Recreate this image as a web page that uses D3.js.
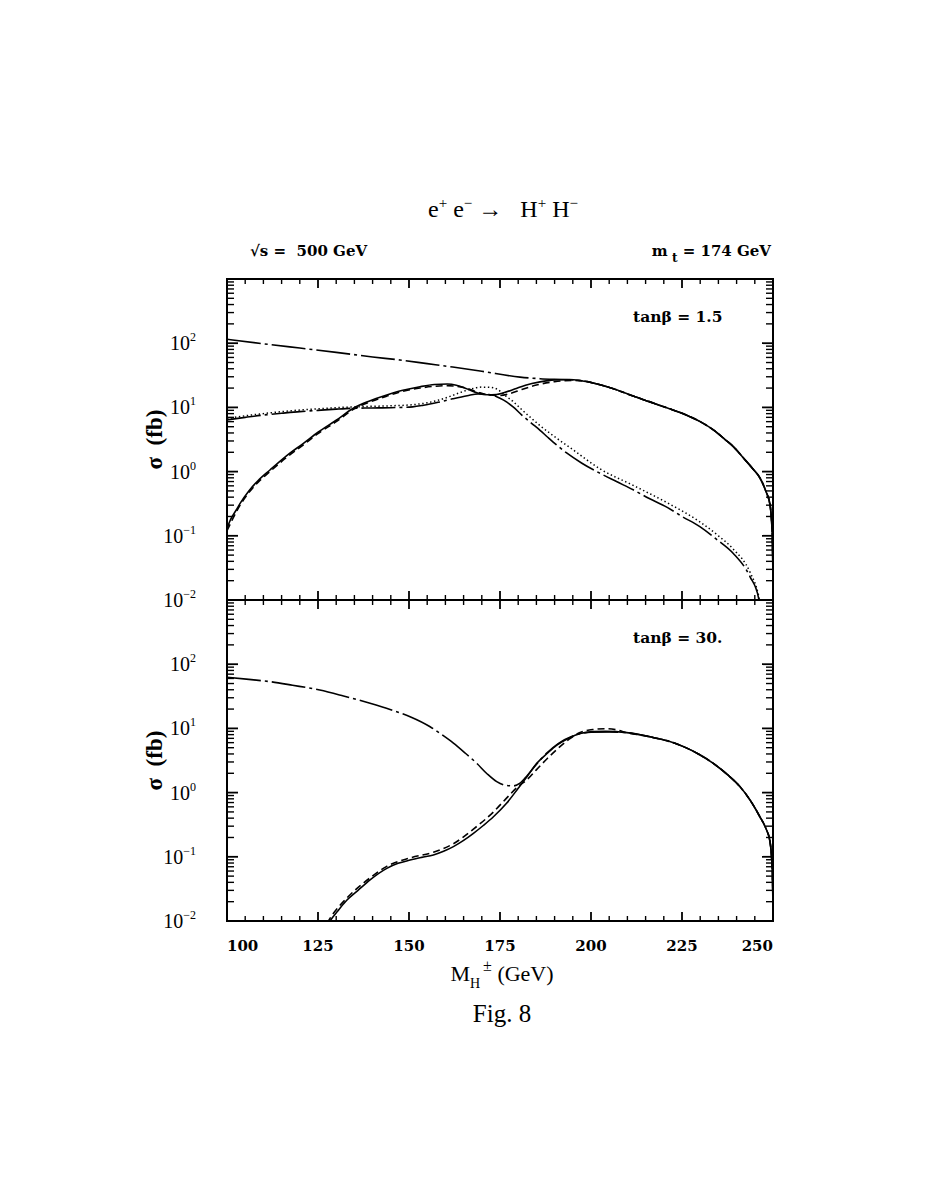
<!DOCTYPE html>
<html><head><meta charset="utf-8">
<script src="https://cdnjs.cloudflare.com/ajax/libs/d3/7.8.5/d3.min.js"></script>
<style>body{margin:0;background:#fff} text{white-space:pre}</style>
</head><body>
<svg id="c" width="927" height="1199" xmlns="http://www.w3.org/2000/svg"></svg>
<script>
// ---------- DATA ----------
const xTickValues = [100,125,150,175,200,225,250];
const yDecades = [-2,-1,0,1,2];

// top panel (tan beta = 1.5): shared high-mass tail
const topTailM = [202.5,207,211.6,216,221,226,230,234,237,239.1,242,244.5,246.4,248,249.2,249.8,250.2];
const topTailS = [22.5,18.8,15,12.3,9.8,7.7,6.0,4.3,3.1,2.45,1.6,1.1,0.8,0.5,0.3,0.1,0.005];

const topDashDotUpperM = [100,110,120,130,140,147.5,155,162,170,180.5,186,190,194,197];
const topDashDotUpperS = [115,98,84,72,61,54.7,48,42.5,36.5,29.6,28,27.4,27,26.3];

const topSolidM = [100,101,102.5,103.6,106,108.5,111.8,116,121,125,130,134.7,139,143.9,148,153,157,160.5,163,165,167,169,171.5,174,176,179,182,186,190,194,197];
const topSolidS = [0.13,0.18,0.25,0.32,0.5,0.72,1.06,1.7,2.76,4.1,6.3,9.7,12.5,15.6,18.3,21,22.7,23.1,22.2,20.5,18.3,16.6,15.7,15.9,16.9,19.3,22.2,25,26.8,27.2,26.3];

const topDashedM = [100,103.6,108.5,111.8,116,121,125,130,134.7,139,143.9,148,153,157,160.5,163,166,169,172,175,178,181,185,190,195,199];
const topDashedS = [0.12,0.3,0.68,1.0,1.6,2.62,3.9,6.0,9.3,12,15,17.6,20,21.3,21.8,21.4,19.7,17.2,15.6,15.3,16.6,19,22.3,25.2,26.4,25.2];

const topDashDotLowerM = [100,105,110,115,120,125,130,134.7,140,145,151,154,158,162,166,169,172,174.1,176,178.6,181,183.6,186,188.2,193.3,197.5,202.5,207,211.6,216,220.8,225,229.9,234.5,239.1,243.7,246,247];
const topDashDotLowerS = [6.4,7.0,7.6,8.1,8.6,9.0,9.4,9.7,9.8,9.9,10.2,10.8,12,13.6,15.2,16.2,15.8,14.7,13,10.2,7.6,5.7,4.4,3.4,1.95,1.35,0.94,0.7,0.52,0.38,0.28,0.2,0.139,0.088,0.053,0.023,0.011,0.005];

const topDottedM = [100,105,110,115,120,125,130,135,140,145,150,155,160,164,167,170,172.5,174.5,176.3,178.5,181,183.6,186,190,195,202.5,211.6,220.8,229.9,235,239.1,243.7,246,247];
const topDottedS = [6.7,7.4,8.0,8.6,9.1,9.5,9.9,10.2,10.4,10.6,10.9,11.8,14,17,19.3,20.7,20.5,18.8,15.5,12.5,9.2,6.8,5.2,3.5,2.2,1.1,0.61,0.33,0.165,0.1,0.062,0.027,0.012,0.006];

// bottom panel (tan beta = 30): shared high-mass tail
const botTailM = [209.8,216.2,221,225.4,229.5,233.6,237.5,240.9,243.8,246.4,248,249.2,249.8,250.2];
const botTailS = [8.6,7.4,6.4,5.2,4.0,2.86,1.9,1.24,0.75,0.42,0.28,0.17,0.06,0.005];

const botSolidM = [126,128.3,130.5,132.9,136,139.3,143.9,147,150.3,153.5,156.7,159.5,162.2,165,167.7,170.5,173.2,176.8,180,182.5,185.1,188,190.6,194,197,200.5,204];
const botSolidS = [0.006,0.01,0.0145,0.021,0.03,0.0436,0.066,0.079,0.089,0.098,0.107,0.122,0.144,0.18,0.232,0.31,0.42,0.68,1.17,1.8,2.86,4.1,5.5,7.1,8.3,8.9,9.0];

const botDashedM = [126,128.3,133,139.3,143.9,150.3,156.7,162.2,167.7,173.2,176.8,180,182.5,185.1,188,190.6,194,197,200.5,204,207];
const botDashedS = [0.0065,0.011,0.023,0.047,0.071,0.096,0.118,0.16,0.27,0.5,0.82,1.25,1.6,2.3,3.4,4.7,6.8,8.6,9.6,9.9,9.5];

const botDashDotM = [100,106,111.8,118,125.5,132,139.3,145,150.3,155.8,159,162.2,165.5,168.6,171.5,174.1,176.5,178.7,180.5,182.5,185.1,188,191,195,200,205];
const botDashDotS = [62.5,58,53.5,47,39.6,32,24.6,19.5,15.2,10.6,8,5.9,4.1,2.86,1.95,1.48,1.3,1.27,1.4,1.85,2.8,4.2,5.8,7.6,8.7,8.8];

// ---------- DRAWING ----------
const DASH = {solid:null, dashed:'7,4', dotted:'1.4,2.6', dashdot:'34,4,3,4'};
const zip = (m,s) => m.map((v,i)=>[v,s[i]]);
const withTail = (m,s,tm,ts) => zip(m,s).concat(zip(tm,ts));

const panels = [
  {id:'p1', top:279, bottom:600, label:'tan\u03b2 = 1.5', labelY:322,
   series:[
     {d:withTail(topDashDotUpperM,topDashDotUpperS,topTailM,topTailS), s:'dashdot'},
     {d:withTail(topSolidM,topSolidS,topTailM,topTailS), s:'solid'},
     {d:withTail(topDashedM,topDashedS,topTailM,topTailS), s:'dashed'},
     {d:zip(topDashDotLowerM,topDashDotLowerS), s:'dashdot'},
     {d:zip(topDottedM,topDottedS), s:'dotted'}
   ]},
  {id:'p2', top:600, bottom:921, label:'tan\u03b2 = 30.', labelY:643,
   series:[
     {d:withTail(botDashDotM,botDashDotS,botTailM,botTailS), s:'dashdot'},
     {d:withTail(botSolidM,botSolidS,botTailM,botTailS), s:'solid'},
     {d:withTail(botDashedM,botDashedS,botTailM,botTailS), s:'dashed'}
   ]}
];

const svg = d3.select('#c');
svg.append('rect').attr('width',927).attr('height',1199).attr('fill','#fff');
const X0 = 227, X1 = 773;
const x = d3.scaleLinear().domain([100,250]).range([X0,X1]);
const defs = svg.append('defs');
const serif = 'Liberation Serif, Times New Roman, serif';
const bold = 'DejaVu Serif, serif';

panels.forEach(p => {
  const y = d3.scaleLog().domain([0.01,1000]).range([p.bottom,p.top]);
  defs.append('clipPath').attr('id','clip'+p.id).append('rect')
    .attr('x',X0).attr('y',p.top).attr('width',X1-X0).attr('height',p.bottom-p.top);
  const g = svg.append('g');
  const line = d3.line().x(d=>x(d[0])).y(d=>y(d[1])).curve(d3.curveMonotoneX);
  p.series.forEach(se => {
    g.append('path').attr('d',line(se.d)).attr('fill','none').attr('stroke','#000')
     .attr('stroke-width',se.s==='dotted'?1.5:1.6)
     .attr('stroke-dasharray',DASH[se.s]).attr('clip-path','url(#clip'+p.id+')');
  });
  // y ticks (left & right)
  const minor = [];
  yDecades.forEach(d => { for (let k=2;k<=9;k++) minor.push(k*Math.pow(10,d)); });
  const major = yDecades.map(d=>Math.pow(10,d)).concat([1000]);
  [[X0,1],[X1,-1]].forEach(([xx,dir]) => {
    minor.forEach(v => g.append('line').attr('x1',xx).attr('x2',xx+dir*7).attr('y1',y(v)).attr('y2',y(v)).attr('stroke','#000').attr('stroke-width',1.4));
    major.forEach(v => g.append('line').attr('x1',xx).attr('x2',xx+dir*11).attr('y1',y(v)).attr('y2',y(v)).attr('stroke','#000').attr('stroke-width',1.8));
  });
  // x ticks top and bottom (inward)
  d3.range(100,251,5).forEach(m => {
    const len = (m%25===0)?9:5;
    [[p.top,1],[p.bottom,-1]].forEach(([yy,dir]) => {
      g.append('line').attr('x1',x(m)).attr('x2',x(m)).attr('y1',yy).attr('y2',yy+dir*len)
       .attr('stroke','#000').attr('stroke-width',m%25===0?1.8:1.4);
    });
  });
  // frame
  g.append('rect').attr('x',X0).attr('y',p.top).attr('width',X1-X0).attr('height',p.bottom-p.top)
   .attr('fill','none').attr('stroke','#000').attr('stroke-width',2);
  // y tick labels
  yDecades.forEach(d => {
    const t = g.append('text').attr('x',196).attr('y',y(Math.pow(10,d))+7).attr('text-anchor','end')
      .attr('font-family',serif).attr('font-size',20);
    t.append('tspan').text('10');
    t.append('tspan').attr('dy',-9).attr('font-size',12).text(d<0?'\u2212'+(-d):String(d));
  });
  // y axis label
  const cy = (p.top+p.bottom)/2;
  const yl = svg.append('text').attr('transform',`translate(162,${cy}) rotate(-90)`).attr('text-anchor','middle')
    .attr('font-family',serif).attr('font-weight','bold').attr('font-size',23);
  yl.text('\u03c3  (fb)');
  // panel label
  svg.append('text').attr('x',633).attr('y',p.labelY).attr('font-family',bold).attr('font-weight','bold')
    .attr('font-size',15.5).text(p.label);
});

// x tick labels
xTickValues.forEach(v => {
  const anchor = v===100?'start':(v===250?'end':'middle');
  const xx = v===100?X0:(v===250?X1:x(v));
  svg.append('text').attr('x',xx).attr('y',951).attr('text-anchor',anchor)
    .attr('font-family',bold).attr('font-weight','bold').attr('font-size',15).text(String(v));
});

// x axis label
const xl = svg.append('text').attr('x',502).attr('y',981).attr('text-anchor','middle').attr('font-family',serif).attr('font-size',22);
xl.append('tspan').text('M');
xl.append('tspan').attr('dy',7).attr('font-size',14).text('H');
xl.append('tspan').attr('dy',-17).attr('dx',3).attr('font-size',16).text('\u00b1');
xl.append('tspan').attr('dy',10).text(' (GeV)');

// title
const tt = svg.append('text').attr('x',503).attr('y',217).attr('text-anchor','middle').attr('font-family',serif).attr('font-size',24);
tt.append('tspan').text('e');
tt.append('tspan').attr('dy',-9).attr('font-size',15).text('+');
tt.append('tspan').attr('dy',9).text(' e');
tt.append('tspan').attr('dy',-9).attr('font-size',15).text('\u2212');
tt.append('tspan').attr('dy',9).text(' \u2192   H');
tt.append('tspan').attr('dy',-9).attr('font-size',15).text('+');
tt.append('tspan').attr('dy',9).text(' H');
tt.append('tspan').attr('dy',-9).attr('font-size',15).text('\u2212');

// parameter labels
svg.append('text').attr('x',250).attr('y',256).attr('font-family',bold).attr('font-weight','bold').attr('font-size',15)
  .text('\u221as =  500 GeV');
const mt = svg.append('text').attr('x',771).attr('y',256).attr('text-anchor','end').attr('font-family',bold).attr('font-weight','bold').attr('font-size',15);
mt.append('tspan').text('m');
mt.append('tspan').attr('dy',6).attr('font-size',12).text(' t');
mt.append('tspan').attr('dy',-6).text(' = 174 GeV');

// figure caption
svg.append('text').attr('x',502).attr('y',1022).attr('text-anchor','middle').attr('font-family',serif).attr('font-size',25).text('Fig. 8');
</script>
</body></html>
